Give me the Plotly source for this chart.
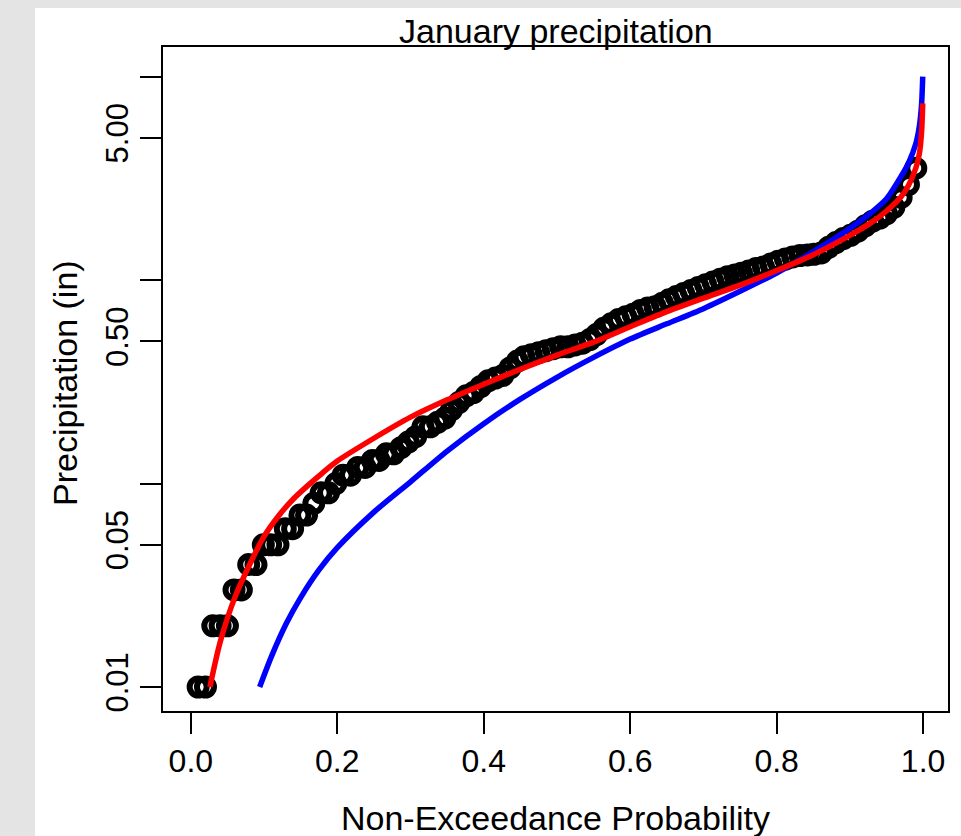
import plotly.graph_objects as go

# ---------------- data ----------------
# empirical non-exceedance probabilities of the observed January totals
prob = [0.010, 0.020, 0.030, 0.040, 0.050, 0.059, 0.069, 0.079, 0.089, 0.099,
        0.109, 0.119, 0.129, 0.139, 0.149, 0.158, 0.168, 0.178, 0.188, 0.198,
        0.208, 0.218, 0.228, 0.238, 0.248, 0.257, 0.267, 0.277, 0.287, 0.297,
        0.307, 0.317, 0.327, 0.337, 0.347, 0.356, 0.366, 0.376, 0.386, 0.396,
        0.406, 0.416, 0.426, 0.436, 0.446, 0.455, 0.465, 0.475, 0.485, 0.495,
        0.505, 0.515, 0.525, 0.535, 0.545, 0.554, 0.564, 0.574, 0.584, 0.594,
        0.604, 0.614, 0.624, 0.634, 0.644, 0.653, 0.663, 0.673, 0.683, 0.693,
        0.703, 0.713, 0.723, 0.733, 0.743, 0.752, 0.762, 0.772, 0.782, 0.792,
        0.802, 0.812, 0.822, 0.832, 0.842, 0.851, 0.861, 0.871, 0.881, 0.891,
        0.901, 0.911, 0.921, 0.931, 0.941, 0.950, 0.960, 0.970, 0.980, 0.990]

precip = [0.01, 0.01, 0.02, 0.02, 0.02, 0.03, 0.03, 0.04, 0.04, 0.05,
          0.05, 0.05, 0.06, 0.06, 0.07, 0.07, 0.08, 0.09, 0.09, 0.10,
          0.11, 0.11, 0.12, 0.12, 0.13, 0.13, 0.14, 0.14, 0.15, 0.16,
          0.17, 0.19, 0.19, 0.20, 0.21, 0.23, 0.25, 0.27, 0.28, 0.30,
          0.32, 0.33, 0.34, 0.37, 0.40, 0.42, 0.43, 0.44, 0.45, 0.46,
          0.47, 0.47, 0.48, 0.49, 0.51, 0.54, 0.58, 0.61, 0.64, 0.66,
          0.68, 0.71, 0.73, 0.74, 0.77, 0.80, 0.83, 0.86, 0.89, 0.92,
          0.95, 0.98, 1.01, 1.04, 1.06, 1.08, 1.11, 1.14, 1.16, 1.20,
          1.24, 1.27, 1.30, 1.32, 1.33, 1.34, 1.36, 1.45, 1.53, 1.60,
          1.66, 1.74, 1.85, 1.95, 2.02, 2.12, 2.28, 2.55, 2.95, 3.55]

# fitted distribution (red)
red_p = [0.026, 0.04, 0.06, 0.08, 0.10, 0.12, 0.14, 0.16, 0.18, 0.20,
         0.25, 0.30, 0.35, 0.40, 0.45, 0.50, 0.55, 0.60, 0.65, 0.70,
         0.75, 0.80, 0.85, 0.90, 0.93, 0.95, 0.97, 0.98, 0.99, 0.995,
         0.998, 0.9995]
red_v = [0.0100, 0.0166, 0.0275, 0.0398, 0.0550, 0.0695, 0.0840, 0.0980, 0.113, 0.129,
         0.167, 0.212, 0.258, 0.308, 0.365, 0.428, 0.496, 0.590, 0.700, 0.815,
         0.945, 1.115, 1.334, 1.660, 1.928, 2.188, 2.570, 2.917, 3.548, 4.20,
         5.40, 7.40]

# fitted distribution (blue)
blue_p = [0.094, 0.11, 0.13, 0.15, 0.175, 0.20, 0.25, 0.30, 0.35, 0.40,
          0.45, 0.50, 0.55, 0.60, 0.65, 0.70, 0.75, 0.80, 0.85, 0.90,
          0.93, 0.95, 0.97, 0.98, 0.99, 0.995, 0.998, 0.9995]
blue_v = [0.0100, 0.0141, 0.0204, 0.0275, 0.0376, 0.0484, 0.0724, 0.102, 0.1445, 0.197,
          0.260, 0.333, 0.417, 0.513, 0.610, 0.724, 0.881, 1.084, 1.380, 1.80,
          2.16, 2.51, 3.24, 3.76, 4.68, 5.75, 7.40, 10.0]

x_ticks = [0.0, 0.2, 0.4, 0.6, 0.8, 1.0]
x_ticktext = ["0.0", "0.2", "0.4", "0.6", "0.8", "1.0"]
y_ticks = [0.01, 0.05, 0.1, 0.5, 1, 5, 10]
y_ticktext = ["0.01", "0.05", "", "0.50", "", "5.00", ""]

FONT = "Liberation Sans, Arial, Helvetica, sans-serif"

fig = go.Figure()
fig.add_trace(go.Scatter(
    x=prob, y=precip, mode="markers",
    marker=dict(symbol="circle-open", size=17, color="black",
                line=dict(color="black", width=6)),
    showlegend=False, hoverinfo="skip"))
fig.add_trace(go.Scatter(
    x=blue_p, y=blue_v, mode="lines",
    line=dict(color="#0000ff", width=5.5, shape="spline", smoothing=0.7),
    showlegend=False))
fig.add_trace(go.Scatter(
    x=red_p, y=red_v, mode="lines",
    line=dict(color="#ff0000", width=5.5, shape="spline", smoothing=0.7),
    showlegend=False))

W, H = 961, 836
L, R, T, B = 163, 13, 47, 125
pw, ph = W - L - R, H - T - B

def px_x(x):
    return (x - L) / pw

def px_y(y):
    return (H - B - y) / ph

fig.update_layout(
    width=W, height=H,
    margin=dict(l=L, r=R, t=T, b=B, pad=0),
    paper_bgcolor="#e4e4e4",
    plot_bgcolor="white",
    font=dict(family=FONT, color="black"),
    shapes=[dict(type="rect", xref="paper", yref="paper",
                 x0=px_x(35), x1=px_x(970), y0=px_y(845), y1=px_y(8),
                 fillcolor="white", line=dict(width=0), layer="below")],
    annotations=[
        dict(text="January precipitation", xref="paper", yref="paper",
             x=0.5, y=px_y(31), xanchor="center", yanchor="middle",
             showarrow=False, font=dict(size=34, family=FONT, color="black")),
        dict(text="Non-Exceedance Probability", xref="paper", yref="paper",
             x=0.5, y=px_y(818), xanchor="center", yanchor="middle",
             showarrow=False, font=dict(size=34, family=FONT, color="black")),
        dict(text="Precipitation (in)", xref="paper", yref="paper",
             x=px_x(65), y=px_y(383), xanchor="center", yanchor="middle",
             textangle=-90, showarrow=False,
             font=dict(size=34, family=FONT, color="black")),
    ],
)

fig.update_xaxes(
    range=[-0.038, 1.034], tickvals=x_ticks, ticktext=x_ticktext,
    showgrid=False, zeroline=False,
    showline=True, mirror=True, linecolor="black", linewidth=2,
    ticks="outside", ticklen=21, tickwidth=2, tickcolor="black",
    tickfont=dict(size=32, family=FONT, color="black"))

fig.update_yaxes(
    type="log", range=[-2.118, 1.146], tickvals=y_ticks, ticktext=y_ticktext,
    showgrid=False, zeroline=False,
    showline=True, mirror=True, linecolor="black", linewidth=2,
    ticks="outside", ticklen=21, tickwidth=2, tickcolor="black",
    tickangle=-90,
    tickfont=dict(size=31, family=FONT, color="black"))

fig.write_html("out.html")
